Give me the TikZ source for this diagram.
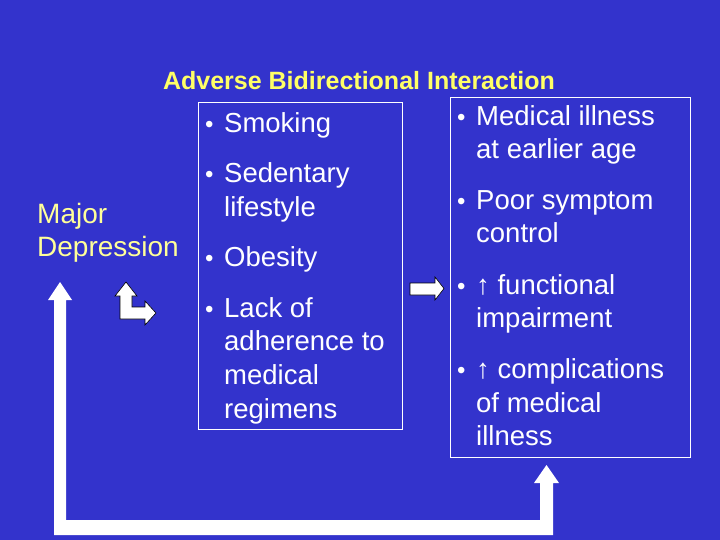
\documentclass[tikz,border=0pt]{standalone}
\usepackage{fontspec}
\setmainfont{Liberation Sans}
\definecolor{bg}{HTML}{3333CC}
\definecolor{ttl}{HTML}{FFFF66}
\definecolor{dep}{HTML}{FFFF99}
\begin{document}
\begin{tikzpicture}[x=1pt,y=-1pt,
  txt/.style={anchor=base west,inner sep=0pt,text=white,font=\fontsize{27.5}{32}\selectfont},
  bul/.style={anchor=base west,inner sep=0pt,text=white,font=\fontsize{24}{28}\selectfont},
  boxline/.style={draw=white,line width=0.8pt},
  arr/.style={fill=white,draw=black,line width=0.6pt}]
\fill[bg] (0,0) rectangle (720,540);
\useasboundingbox (0,0) rectangle (720,540);
\node[anchor=base,inner sep=0pt,text=ttl,font=\bfseries\fontsize{25}{28}\selectfont] (title) at (359,90) {Adverse Bidirectional Interaction};
\draw[boxline] (198,102) rectangle (402,429);
\draw[boxline] (450,97) rectangle (690,457);
\node[anchor=base west,inner sep=0pt,text=dep,font=\fontsize{28}{32}\selectfont] (dep) at (37,223) {Major};
\node[anchor=base west,inner sep=0pt,text=dep,font=\fontsize{28}{32}\selectfont] (dep2) at (37,256) {Depression};
% bullets
\foreach \x/\y [count=\i] in {205/133,205/183,205/266,205/317,457/126,457/210,457/294,457/378}
  \node[bul] (b\i) at (\x,\y) {•};
% left list
\node[txt] (l1) at (224,133) {Smoking};
\node[txt] (l2) at (224,183) {Sedentary};
\node[txt] (l3) at (224,216) {lifestyle};
\node[txt] (l4) at (224,266) {Obesity};
\node[txt] (l5) at (224,317) {Lack of};
\node[txt] (l6) at (224,350) {adherence to};
\node[txt] (l7) at (224,384) {medical};
\node[txt] (l8) at (224,418) {regimens};
% right list
\node[txt] (r1) at (476,126) {Medical illness};
\node[txt] (r2) at (476,159) {at earlier age};
\node[txt] (r3) at (476,210) {Poor symptom};
\node[txt] (r4) at (476,243) {control};
\node[txt] (r5) at (476,294) {\textbf{↑} functional};
\node[txt] (r6) at (476,327) {impairment};
\node[txt] (r7) at (476,378) {\textbf{↑} complications};
\node[txt] (r8) at (476,412) {of medical};
\node[txt] (r9) at (476,445) {illness};
% bent arrow
\filldraw[arr] (126,282) -- (137,296) -- (132,296) -- (132,307) -- (145,307) -- (145,301) -- (156,313) -- (145,325) -- (145,319) -- (120,319) -- (120,296) -- (115,296) -- cycle;
% small right arrow
\filldraw[arr] (410,283) -- (435,283) -- (435,277) -- (444,288.5) -- (435,300) -- (435,295) -- (410,295) -- cycle;
% big U arrow
\fill[white] (54,300) -- (48,300) -- (60,282) -- (72,300) -- (66,300) -- (66,520) -- (540,520) -- (540,483) -- (534,483) -- (546.5,465) -- (559,483) -- (553,483) -- (553,535) -- (54,535) -- cycle;
\end{tikzpicture}
\end{document}
